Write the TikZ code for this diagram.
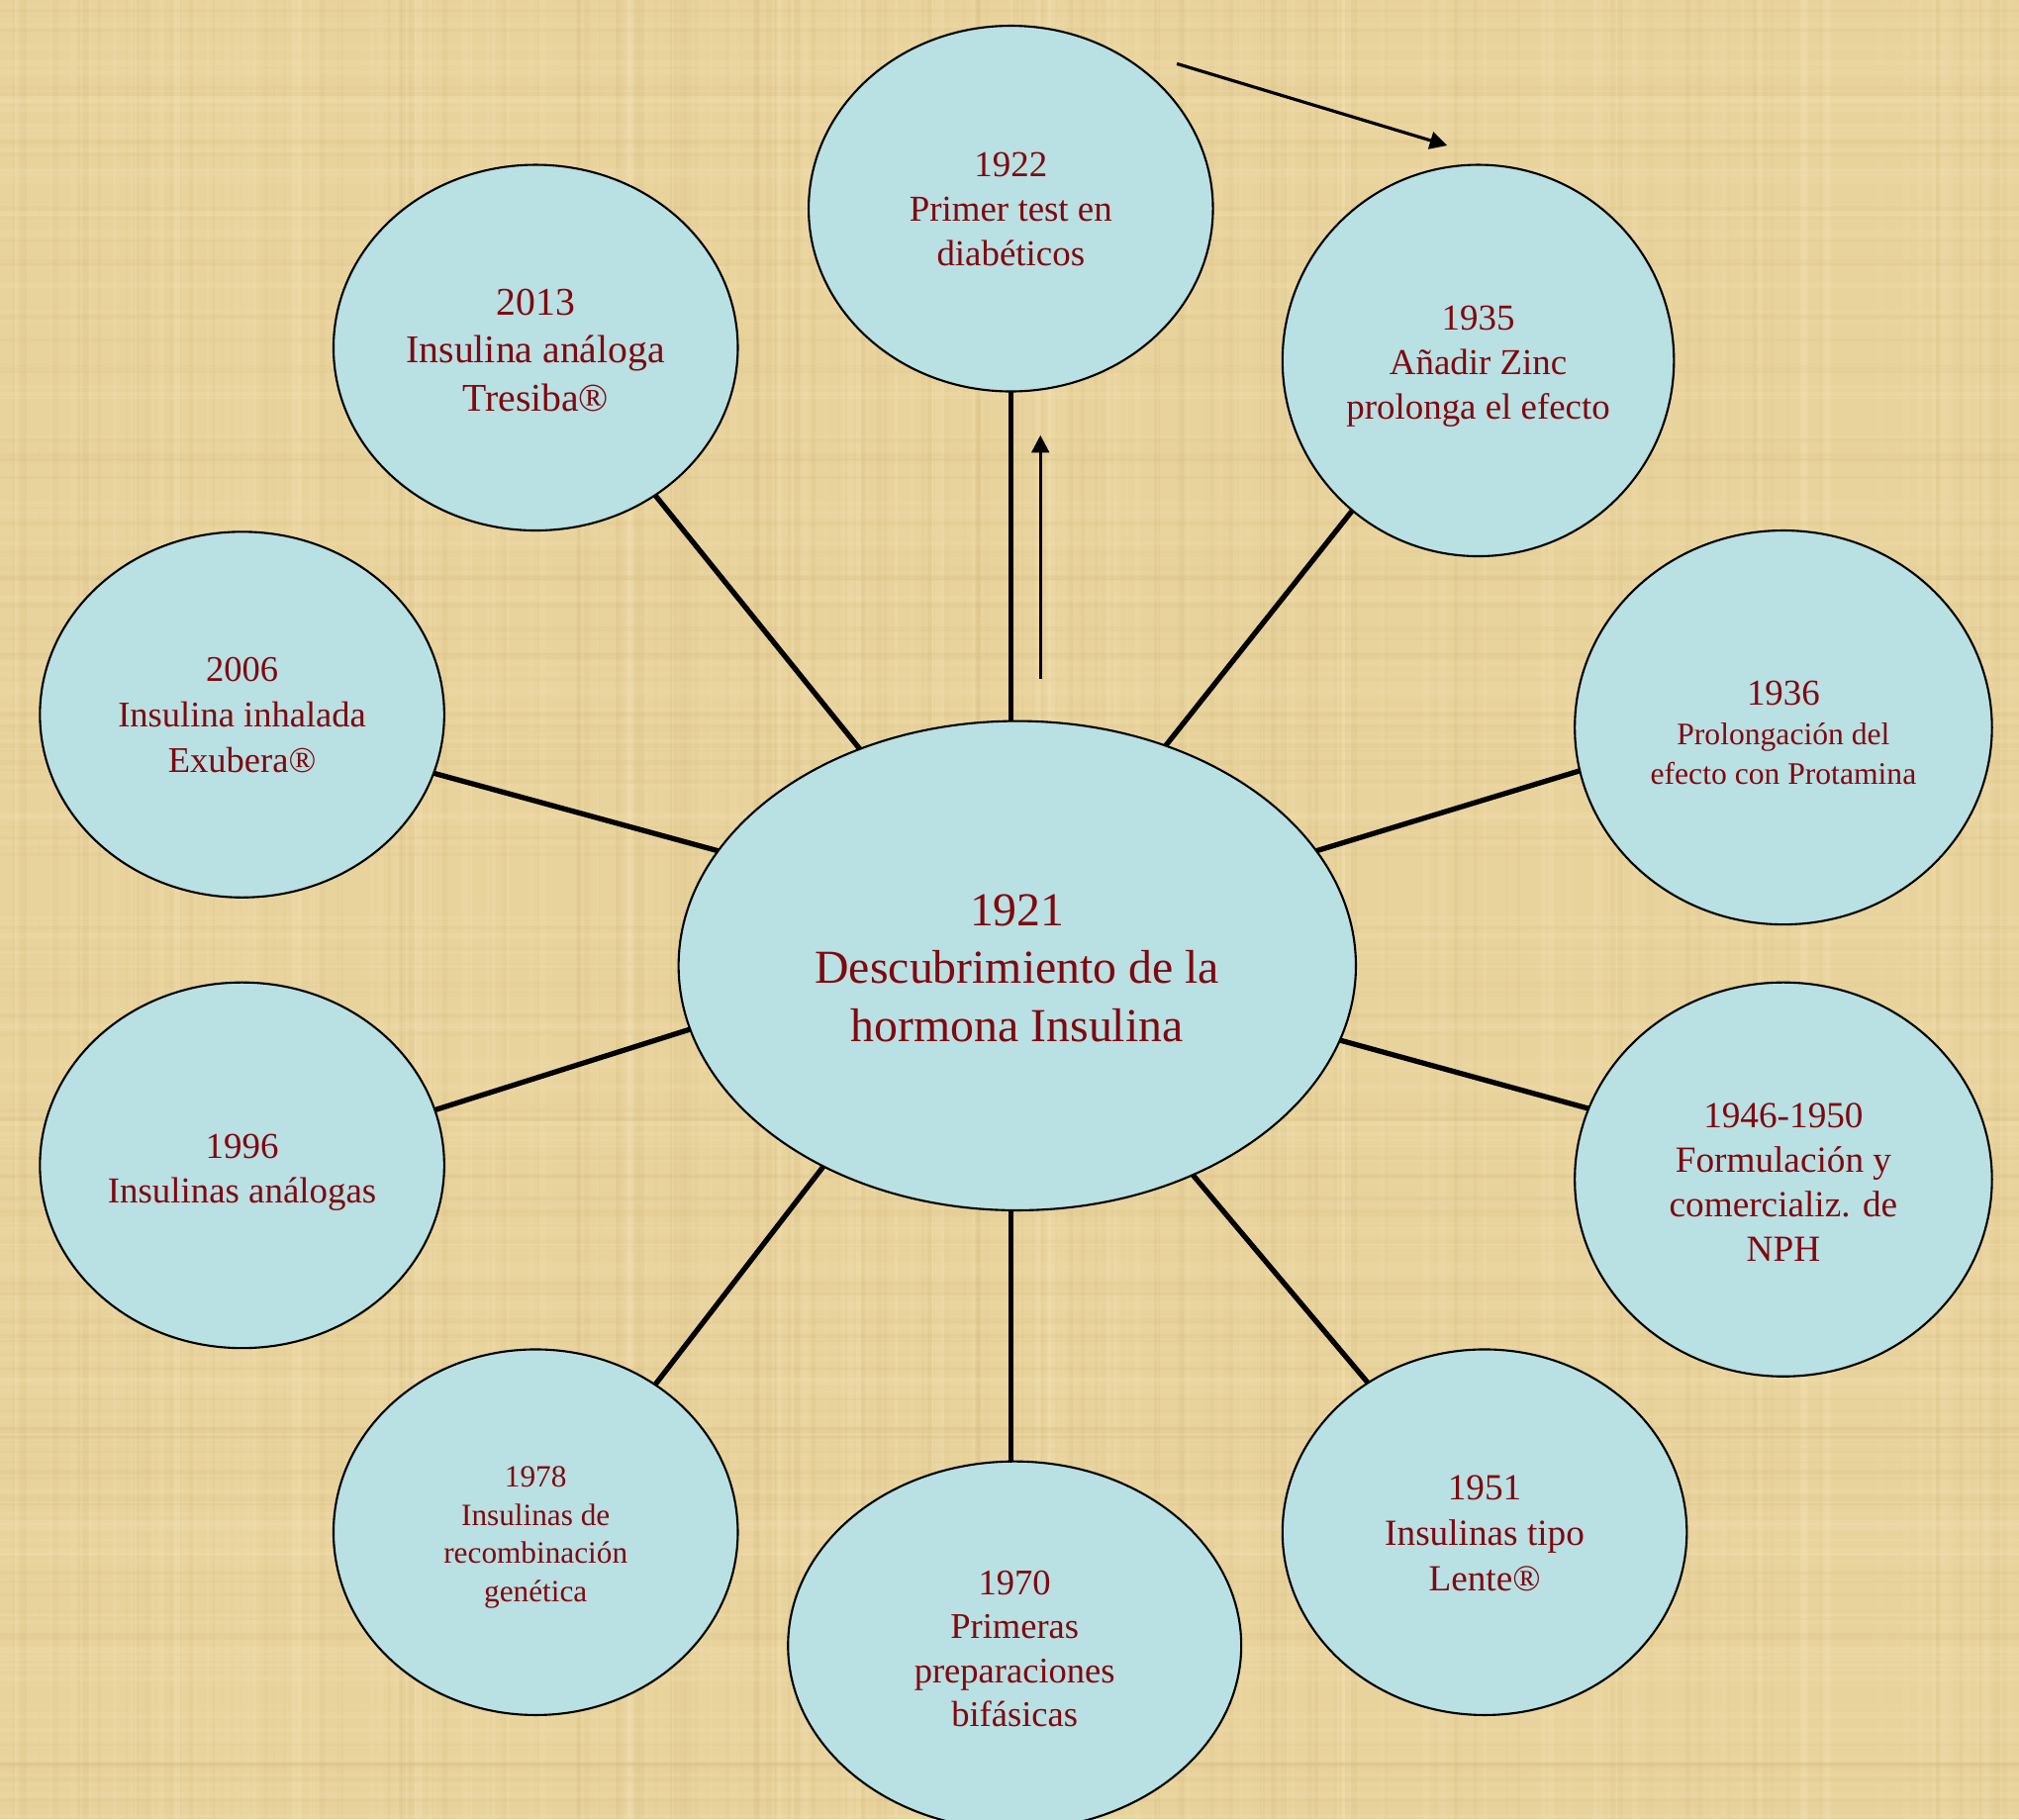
\documentclass[tikz,border=0pt]{standalone}
\usepackage{fontspec}
\setmainfont{Liberation Serif}
\usetikzlibrary{shapes.geometric,arrows.meta}
\definecolor{paper}{RGB}{233,211,157}
\definecolor{paperlt}{RGB}{246,231,188}
\definecolor{paperdk}{RGB}{212,187,124}
\definecolor{bubfill}{RGB}{185,224,227}
\definecolor{txtred}{RGB}{128,8,14}
\begin{document}
\begin{tikzpicture}[x=0.01301cm,y=-0.01301cm,
  bub/.style 2 args={ellipse, draw=black, line width=0.6pt, fill=bubfill,
    inner sep=0pt, outer sep=0pt,
    minimum width=#1*0.01301cm, minimum height=#2*0.01301cm},
  lab/.style={text=txtred, align=center, inner sep=0pt},
  link/.style={line width=1.5pt, black},
  arr/.style={line width=0.9pt, black, -{Triangle[length=5pt,width=5pt]}}]

% background
\fill[paper] (0,0) rectangle (1568,1413);
\useasboundingbox (0,0) rectangle (1568,1413);
\begin{scope}
  \clip (0,0) rectangle (1568,1413);
  \pgfmathsetseed{42}
  \foreach \i in {1,...,160}{
    \pgfmathsetmacro\xx{rnd*1568}
    \pgfmathsetmacro\ww{1+rnd*5}
    \pgfmathsetmacro\op{0.06+rnd*0.16}
    \fill[paperlt, opacity=\op] (\xx,0) rectangle ++(\ww,1413);
  }
  \foreach \i in {1,...,140}{
    \pgfmathsetmacro\xx{rnd*1568}
    \pgfmathsetmacro\ww{1+rnd*4}
    \pgfmathsetmacro\op{0.06+rnd*0.16}
    \fill[paperdk, opacity=\op] (\xx,0) rectangle ++(\ww,1413);
  }
  \foreach \i in {1,...,150}{
    \pgfmathsetmacro\yy{rnd*1413}
    \pgfmathsetmacro\hh{1+rnd*4}
    \pgfmathsetmacro\op{0.05+rnd*0.14}
    \fill[paperlt, opacity=\op] (0,\yy) rectangle ++(1568,\hh);
  }
  \foreach \i in {1,...,130}{
    \pgfmathsetmacro\yy{rnd*1413}
    \pgfmathsetmacro\hh{1+rnd*3}
    \pgfmathsetmacro\op{0.05+rnd*0.14}
    \fill[paperdk, opacity=\op] (0,\yy) rectangle ++(1568,\hh);
  }
\end{scope}

% bubbles
\node[bub={526}{380}] (C) at (790,750) {};
\node[bub={314}{284}] (c1922) at (785,162) {};
\node[bub={304}{304}] (c1935) at (1148,280) {};
\node[bub={324}{306}] (c1936) at (1385,565) {};
\node[bub={324}{306}] (c1946) at (1385,916) {};
\node[bub={314}{284}] (c1951) at (1153,1190) {};
\node[bub={352}{286}] (c1970) at (788,1278) {};
\node[bub={314}{284}] (c1978) at (416,1190) {};
\node[bub={314}{284}] (c1996) at (188,905) {};
\node[bub={314}{284}] (c2006) at (188,555) {};
\node[bub={314}{284}] (c2013) at (416,270) {};

% spokes
\draw[link] (c1922.south) -- (c1922.south |- C.north);
\draw[link] (c1970.north -| c1922.south) -- (C.south -| c1922.south);
\draw[link] (c1935.230.9) -- (C.56);
\draw[link] (c1936.192.5) -- (C.21);
\draw[link] (c1946.160.1) -- (C.347.5);
\draw[link] (c1951.128.7) -- (C.310.9);
\draw[link] (c1978.51) -- (C.226.8);
\draw[link] (c1996.16.5) -- (C.191.8);
\draw[link] (c2006.343.8) -- (C.159.4);
\draw[link] (c2013.309) -- (C.126.4);

% free arrows
\coordinate (u1) at (808,527);
\coordinate (u2) at (808,338);
\draw[arr] (u1) -- (u2);
\coordinate (r1) at (914,49.5);
\coordinate (r2) at (1124,113);
\draw[arr] (r1) -- (r2);

% labels
\node[lab, font=\fontsize{13.6}{16.6}\selectfont] (t1921) at (790,752)
  {1921\\Descubrimiento de la\\hormona Insulina};
\node[lab, font=\fontsize{10.5}{12.75}\selectfont] (t1922) at (785,162.5)
  {1922\\Primer test en\\diabéticos};
\node[lab, font=\fontsize{11.3}{13.7}\selectfont] (t2013) at (416,272)
  {2013\\Insulina análoga\\Tresiba®};
\node[lab, font=\fontsize{10.5}{12.75}\selectfont] (t1935) at (1148,284.5)
  {1935\\Añadir Zinc\\prolonga el efecto};
\node[lab, font=\fontsize{9}{11.45}\selectfont] (t1936) at (1385,569)
  {{\fontsize{10.5}{11.45}\selectfont 1936}\\Prolongación del\\efecto con Protamina};
\node[lab, font=\fontsize{10.6}{12.8}\selectfont] (t1946) at (1385,918)
  {1946-1950\\Formulación y\\comercializ. de\\NPH};
\node[lab, font=\fontsize{10.6}{13.1}\selectfont] (t1951) at (1153,1190.5)
  {1951\\Insulinas tipo\\Lente®};
\node[lab, font=\fontsize{10.4}{12.7}\selectfont] (t1970) at (788,1280.5)
  {1970\\Primeras\\preparaciones\\bifásicas};
\node[lab, font=\fontsize{8.9}{11}\selectfont] (t1978) at (416,1194)
  {1978\\Insulinas de\\recombinación\\genética};
\node[lab, font=\fontsize{10.5}{12.9}\selectfont] (t1996) at (188,910.5)
  {1996\\Insulinas análogas};
\node[lab, font=\fontsize{10.4}{13.1}\selectfont] (t2006) at (188,555.5)
  {2006\\Insulina inhalada\\Exubera®};
\end{tikzpicture}
\end{document}
